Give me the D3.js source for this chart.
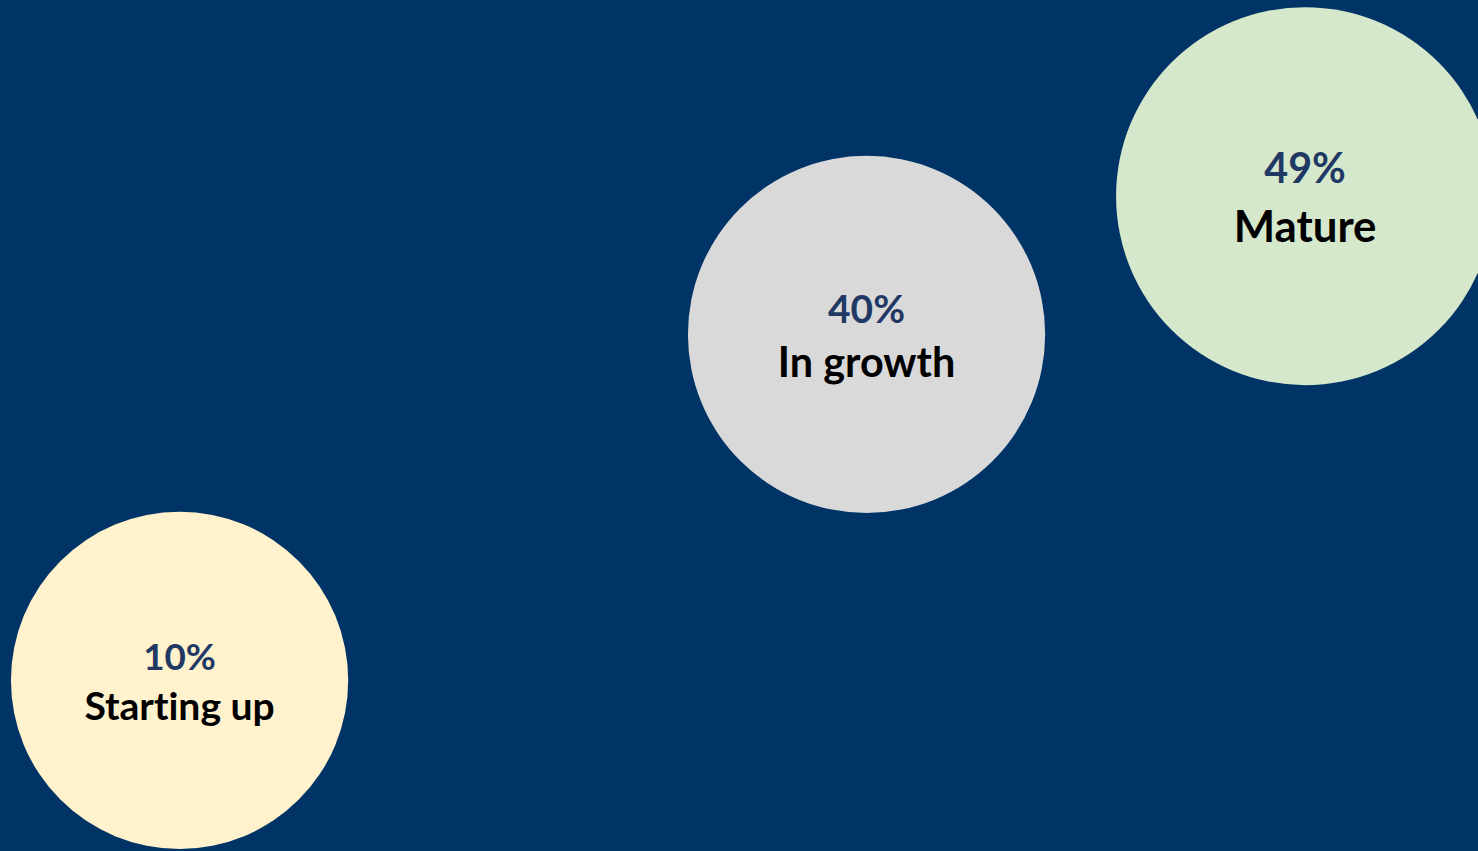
<!DOCTYPE html>
<html>
<head>
<meta charset="utf-8">
<script src="https://cdn.jsdelivr.net/npm/d3@7"></script>
<style>
  html, body { margin: 0; padding: 0; background: #003366; overflow: hidden; }
  svg { display: block; }
  text { font-variant-ligatures: none; }
</style>
</head>
<body>
<svg id="chart"></svg>
<script>
// Business stage breakdown, drawn as a bubble chart
const categories = ["Starting up", "In growth", "Mature"];
const shares = [10, 40, 49];            // percent of respondents
const xValues = [12.15, 58.63, 88.3];   // horizontal position (0-100)
const yValues = [20.05, 60.7, 76.95];   // vertical position (0-100)
const bubbleSizes = [79.6, 89.3, 100];  // bubble size (area units)
const fills = ["#FFF2CC", "#D9D9D9", "#D5E8CB"];

// Baseline offsets of the two label lines from each bubble centre (px)
const shareOffsets = [-10, -11, -13];
const nameOffsets = [40, 43, 46];

const W = 1478, H = 851;
const svg = d3.select("#chart").attr("width", W).attr("height", H);

svg.append("rect").attr("width", W).attr("height", H).attr("fill", "#003366");

const x = d3.scaleLinear().domain([0, 100]).range([0, W]);
const y = d3.scaleLinear().domain([0, 100]).range([H, 0]);
const r = d3.scaleSqrt().domain([0, 100]).range([0, 189]);

const rows = categories.map((c, i) => ({
  name: c, share: shares[i], x: xValues[i], y: yValues[i], size: bubbleSizes[i],
  fill: fills[i], dyShare: shareOffsets[i], dyName: nameOffsets[i]
}));

const g = svg.append("g")
  .selectAll("g.bubble")
  .data(rows)
  .join("g")
  .attr("class", "bubble")
  .attr("transform", d => `translate(${x(d.x)},${y(d.y)})`);

g.append("circle")
  .attr("r", d => r(d.size))
  .attr("fill", d => d.fill);

// label text grows with the bubble radius
const fontFamily = "Lato, 'Open Sans', sans-serif";

g.append("text")
  .attr("text-anchor", "middle")
  .attr("y", d => d.dyShare)
  .attr("font-family", fontFamily)
  .attr("font-weight", 700)
  .attr("font-size", d => (r(d.size) * 0.218).toFixed(1))
  .attr("fill", "#1F3864")
  .text(d => d.share + "%");

g.append("text")
  .attr("text-anchor", "middle")
  .attr("y", d => d.dyName)
  .attr("font-family", fontFamily)
  .attr("font-weight", 700)
  .attr("font-size", d => (r(d.size) * 0.232).toFixed(1))
  .attr("fill", "#000000")
  .text(d => d.name);
</script>
</body>
</html>
